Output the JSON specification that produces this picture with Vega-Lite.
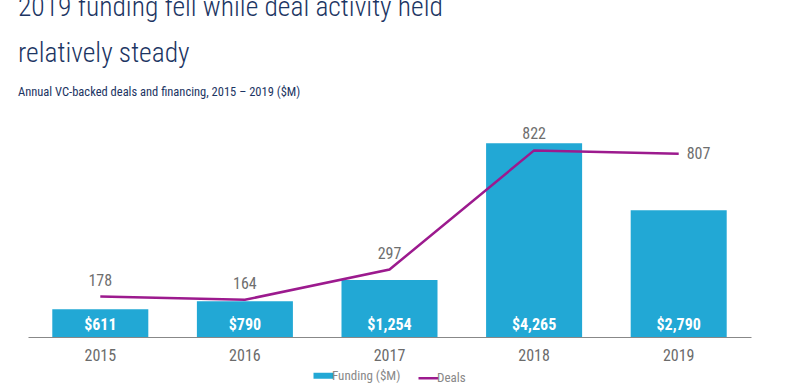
{
  "$schema": "https://vega.github.io/schema/vega-lite/v6.json",
  "width": 723,
  "height": 227,
  "autosize": {"type": "none"},
  "padding": {"left": 28, "top": 110, "right": 49, "bottom": 50},
  "background": "white",
  "config": {"view": {"stroke": null}},
  "title": {
    "text": ["2019 funding fell while deal activity held", "relatively steady"],
    "subtitle": "Annual VC-backed deals and financing, 2015 – 2019 ($M)",
    "anchor": "start",
    "frame": "group",
    "dx": -10,
    "font": "Roboto Condensed, Roboto, sans-serif",
    "fontSize": 27.5,
    "fontWeight": 300,
    "color": "#1c3563",
    "lineHeight": 46,
    "subtitleFont": "Roboto Condensed, Roboto, sans-serif",
    "subtitleFontSize": 12.5,
    "subtitleColor": "#1c3563",
    "subtitlePadding": 18,
    "offset": 12
  },
  "data": {
    "values": [
      {"year": "2015", "funding": 611, "deals": 178},
      {"year": "2016", "funding": 790, "deals": 164},
      {"year": "2017", "funding": 1254, "deals": 297},
      {"year": "2018", "funding": 4265, "deals": 822},
      {"year": "2019", "funding": 2790, "deals": 807}
    ]
  },
  "encoding": {
    "x": {
      "field": "year",
      "type": "ordinal",
      "scale": {"paddingInner": 0.336, "paddingOuter": 0.168},
      "axis": {
        "title": null,
        "labelAngle": 0,
        "ticks": false,
        "domainColor": "#888888",
        "domainWidth": 1,
        "labelFont": "Roboto Condensed, Roboto, sans-serif",
        "labelFontSize": 16,
        "labelColor": "#6b6b6b",
        "labelPadding": 10,
        "grid": false
      }
    }
  },
  "layer": [
    {
      "layer": [
        {
          "mark": {"type": "bar"},
          "encoding": {
            "y": {"field": "funding", "type": "quantitative", "scale": {"domain": [0, 4630]}, "axis": null},
            "color": {
              "datum": "Funding ($M)",
              "scale": {"domain": ["Funding ($M)", "Deals"], "range": ["#22a8d5", "#9c1a8e"]},
              "legend": {
                "orient": "none",
                "legendX": 289,
                "legendY": 259,
                "direction": "horizontal",
                "title": null,
                "symbolType": "stroke",
                "symbolSize": 400,
                "symbolStrokeWidth": 6,
                "labelFont": "Roboto Condensed, Roboto, sans-serif",
                "labelFontSize": 13,
                "labelColor": "#888888",
                "labelOffset": 2,
                "columnPadding": 12,
                "encode": {
                  "symbols": {
                    "update": {
                      "strokeWidth": {"signal": "datum.value === 'Deals' ? 2.5 : 6"},
                      "stroke": {"signal": "datum.value === 'Deals' ? '#9c1a8e' : '#22a8d5'"},
                      "fill": {"value": "transparent"}
                    }
                  }
                }
              }
            }
          }
        },
        {
          "mark": {"type": "text", "baseline": "alphabetic", "dy": -7, "color": "white", "fontWeight": "bold", "fontSize": 16, "font": "Roboto Condensed, Roboto, sans-serif"},
          "encoding": {
            "y": {"datum": 0, "type": "quantitative"},
            "text": {"field": "funding", "type": "quantitative", "format": "$,d"}
          }
        }
      ]
    },
    {
      "layer": [
        {
          "mark": {"type": "line", "strokeWidth": 2.5},
          "encoding": {
            "y": {"field": "deals", "type": "quantitative", "scale": {"domain": [0, 925]}, "axis": null},
            "color": {"datum": "Deals"}
          }
        },
        {
          "transform": [{"filter": "datum.year != '2019'"}],
          "mark": {"type": "text", "baseline": "middle", "dy": -16, "color": "#6e6e6e", "fontSize": 16, "font": "Roboto Condensed, Roboto, sans-serif"},
          "encoding": {
            "y": {"field": "deals", "type": "quantitative"},
            "text": {"field": "deals", "type": "quantitative"}
          }
        },
        {
          "transform": [{"filter": "datum.year == '2019'"}],
          "mark": {"type": "text", "baseline": "middle", "align": "left", "dx": 8, "color": "#6e6e6e", "fontSize": 16, "font": "Roboto Condensed, Roboto, sans-serif"},
          "encoding": {
            "y": {"field": "deals", "type": "quantitative"},
            "text": {"field": "deals", "type": "quantitative"}
          }
        }
      ]
    }
  ],
  "resolve": {"scale": {"y": "independent"}}
}
